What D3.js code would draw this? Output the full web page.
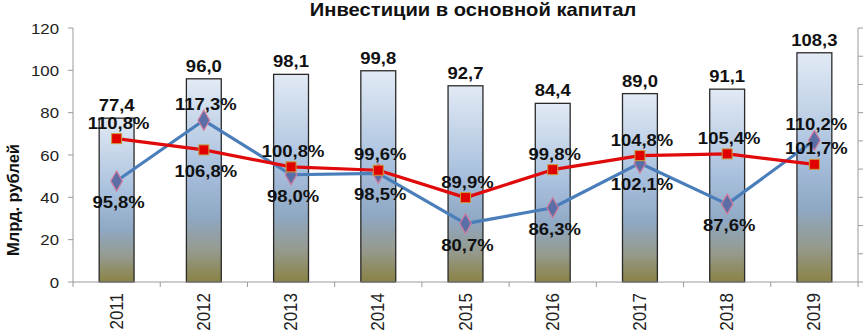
<!DOCTYPE html>
<html>
<head>
<meta charset="utf-8">
<script src="https://cdn.jsdelivr.net/npm/d3@7"></script>
<style>
  body { margin: 0; background: #fff; }
  svg { display: block; font-family: "Liberation Sans", Arial, sans-serif; }
</style>
</head>
<body>
<svg id="chart" width="864" height="336"></svg>
<script>
// data
const years = ["2011", "2012", "2013", "2014", "2015", "2016", "2017", "2018", "2019"];
const invest = [77.4, 96.0, 98.1, 99.8, 92.7, 84.4, 89.0, 91.1, 108.3];
const blueIdx = [95.8, 117.3, 98.0, 98.5, 80.7, 86.3, 102.1, 87.6, 110.2];
const redIdx = [110.8, 106.8, 100.8, 99.6, 89.9, 99.8, 104.8, 105.4, 101.7];
const leftTicks = [0, 20, 40, 60, 80, 100, 120];
const rightTicks = [60, 70, 80, 90, 100, 110, 120, 130, 140, 150];
// label placement for the percent series
const bluePlace = ["below", "above", "below", "below", "below", "below", "below", "below", "above"];
const redPlace = ["above", "below", "above", "above", "above", "above", "above", "above", "above"];

const svg = d3.select("#chart");
const margin = {top: 28, left: 73, right: 6, bottom: 54};
const width = 864 - margin.left - margin.right;
const height = 336 - margin.top - margin.bottom;
const sx = 1.12; // horizontal stretch of the original text

const fmt = v => d3.format(".1f")(v).replace(".", ",");

// gradient for bars
const grad = svg.append("defs").append("linearGradient")
    .attr("id", "barGrad")
    .attr("x1", 0).attr("y1", 0).attr("x2", 0).attr("y2", 1);
[[0, "#e2eaf5"], [0.45, "#a8c0dd"], [0.68, "#8fa8c4"], [0.85, "#959a8c"], [1, "#8a8244"]]
    .forEach(s => grad.append("stop").attr("offset", s[0]).attr("stop-color", s[1]));

const g = svg.append("g").attr("transform", `translate(${margin.left},${margin.top})`);

// scales
const x = d3.scaleBand().domain(years).range([0, width]).paddingInner(0.6).paddingOuter(0.3);
const xc = d => x(d) + x.bandwidth() / 2;
const step = width / years.length;
const y = d3.scaleLinear().domain([0, 120]).range([height, 0]);
const y2 = d3.scaleLinear().domain([60, 150]).range([height, 0]);

function stretchText(sel, px, py, extra) {
    return sel.attr("transform", `translate(${px},${py}) scale(${sx},1)` + (extra || ""));
}

// title
stretchText(svg.append("text"), 473, 16)
    .attr("text-anchor", "middle")
    .attr("font-size", 18).attr("font-weight", "bold").attr("fill", "#111")
    .text("Инвестиции в основной капитал");

// y title
svg.append("text")
    .attr("transform", "translate(19,200) rotate(-90)")
    .attr("text-anchor", "middle")
    .attr("font-size", 16.5).attr("font-weight", "bold").attr("fill", "#111")
    .text("Млрд. рублей");

// bars
g.selectAll("rect.bar").data(invest).enter().append("rect")
    .attr("class", "bar")
    .attr("x", (d, i) => x(years[i]))
    .attr("y", d => y(d))
    .attr("width", x.bandwidth())
    .attr("height", d => height - y(d))
    .attr("fill", "url(#barGrad)")
    .attr("stroke", "#2a2a2a").attr("stroke-width", 1.3);

// bar value labels
invest.forEach((d, i) => {
    const inside = y(d) - 20 < 0;
    stretchText(g.append("text"), xc(years[i]), inside ? y(d) + 19 : y(d) - 7)
        .attr("text-anchor", "middle")
        .attr("font-size", 16.5).attr("font-weight", "bold").attr("fill", "#111")
        .text(fmt(d));
});

// axes
const axisColor = "#9a9a9a";
g.append("line").attr("x1", 0).attr("x2", 0).attr("y1", 0).attr("y2", height).attr("stroke", axisColor);
g.append("line").attr("x1", width).attr("x2", width).attr("y1", 0).attr("y2", height).attr("stroke", axisColor);
g.append("line").attr("x1", 0).attr("x2", width).attr("y1", height).attr("y2", height).attr("stroke", axisColor);

leftTicks.forEach(t => {
    g.append("line").attr("x1", -5).attr("x2", 0).attr("y1", y(t)).attr("y2", y(t)).attr("stroke", axisColor);
    stretchText(g.append("text"), -14, y(t) + 5.5)
        .attr("text-anchor", "end")
        .attr("font-size", 15).attr("fill", "#222")
        .text(t);
});
rightTicks.forEach(t => {
    g.append("line").attr("x1", width).attr("x2", width + 5).attr("y1", y2(t)).attr("y2", y2(t)).attr("stroke", axisColor);
});
d3.range(years.length + 1).forEach(i => {
    g.append("line").attr("x1", i * step).attr("x2", i * step)
        .attr("y1", height).attr("y2", height + 5).attr("stroke", axisColor);
});
years.forEach(yr => {
    g.append("text")
        .attr("transform", `translate(${xc(yr) + 6},${height + 11}) scale(${sx},1) rotate(-90)`)
        .attr("text-anchor", "end")
        .attr("font-size", 17).attr("fill", "#222")
        .text(yr);
});

// lines
const line = d3.line().x((d, i) => xc(years[i])).y(d => y2(d));
g.append("path").datum(blueIdx).attr("d", line)
    .attr("fill", "none").attr("stroke", "#4a7ebb").attr("stroke-width", 3.2).attr("stroke-linejoin", "round");
g.append("path").datum(redIdx).attr("d", line)
    .attr("fill", "none").attr("stroke", "#e00a0a").attr("stroke-width", 3.2).attr("stroke-linejoin", "round");

// markers
g.selectAll("path.diamond").data(blueIdx).enter().append("path")
    .attr("class", "diamond")
    .attr("d", d3.symbol(d3.symbolDiamond, 115))
    .attr("transform", (d, i) => `translate(${xc(years[i])},${y2(d)})`)
    .attr("fill", "#5b6fa6").attr("stroke", "#d07a9c").attr("stroke-width", 1.2);
g.selectAll("rect.sq").data(redIdx).enter().append("rect")
    .attr("class", "sq")
    .attr("x", (d, i) => xc(years[i]) - 5)
    .attr("y", d => y2(d) - 5)
    .attr("width", 10).attr("height", 10)
    .attr("fill", "#e00000").attr("stroke", "#c89a3c").attr("stroke-width", 1);

// percent labels
function pctLabels(vals, place) {
    vals.forEach((d, i) => {
        const dy = place[i] === "above" ? -10 : 27;
        stretchText(g.append("text"), xc(years[i]) + 2, y2(d) + dy)
            .attr("text-anchor", "middle")
            .attr("font-size", 16.5).attr("font-weight", "bold").attr("fill", "#111")
            .text(fmt(d) + "%");
    });
}
pctLabels(blueIdx, bluePlace);
pctLabels(redIdx, redPlace);
</script>
</body>
</html>
